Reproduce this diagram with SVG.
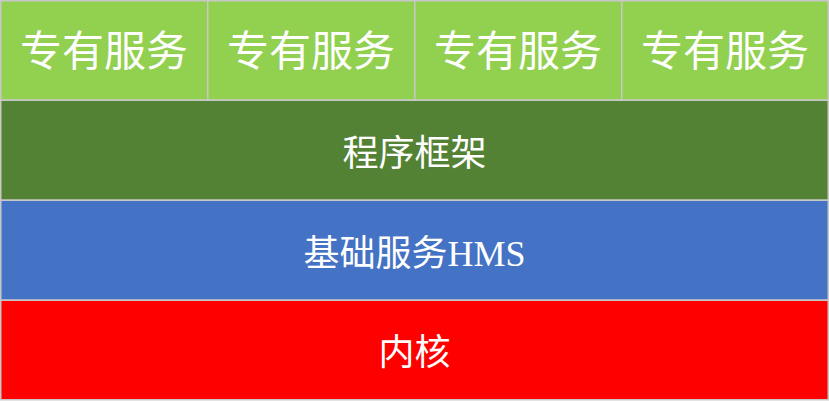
<svg xmlns="http://www.w3.org/2000/svg" width="829" height="401" viewBox="0 0 829 401">
<style>
.cell{stroke:#c8c8c8;stroke-width:1.5}
.t{font-family:"Liberation Serif","Noto Sans CJK SC",serif;fill:#ffffff;text-anchor:middle;dominant-baseline:central}
.big{font-size:42px}
.mid{font-size:36px}
</style>
<rect x="0" y="0" width="829" height="401" fill="#ffffff"/>
<g id="svc1"><rect class="cell" x="0.75" y="0.75" width="207" height="99.5" fill="#92D050"/><text class="t big" x="104" y="52">专有服务</text></g>
<g id="svc2"><rect class="cell" x="207.75" y="0.75" width="207" height="99.5" fill="#92D050"/><text class="t big" x="311" y="52">专有服务</text></g>
<g id="svc3"><rect class="cell" x="414.75" y="0.75" width="207" height="99.5" fill="#92D050"/><text class="t big" x="518" y="52">专有服务</text></g>
<g id="svc4"><rect class="cell" x="621.75" y="0.75" width="206.5" height="99.5" fill="#92D050"/><text class="t big" x="725" y="52">专有服务</text></g>
<g id="framework"><rect class="cell" x="0.75" y="100.25" width="827.5" height="100" fill="#548235"/><text class="t mid" x="414.5" y="154">程序框架</text></g>
<g id="hms"><rect class="cell" x="0.75" y="200.25" width="827.5" height="100" fill="#4472C4"/><text class="t mid" x="414.5" y="254">基础服务HMS</text></g>
<g id="kernel"><rect class="cell" x="0.75" y="300.25" width="827.5" height="99.5" fill="#FF0000"/><text class="t mid" x="414.5" y="353">内核</text></g>
<g id="connectors"></g>
</svg>
